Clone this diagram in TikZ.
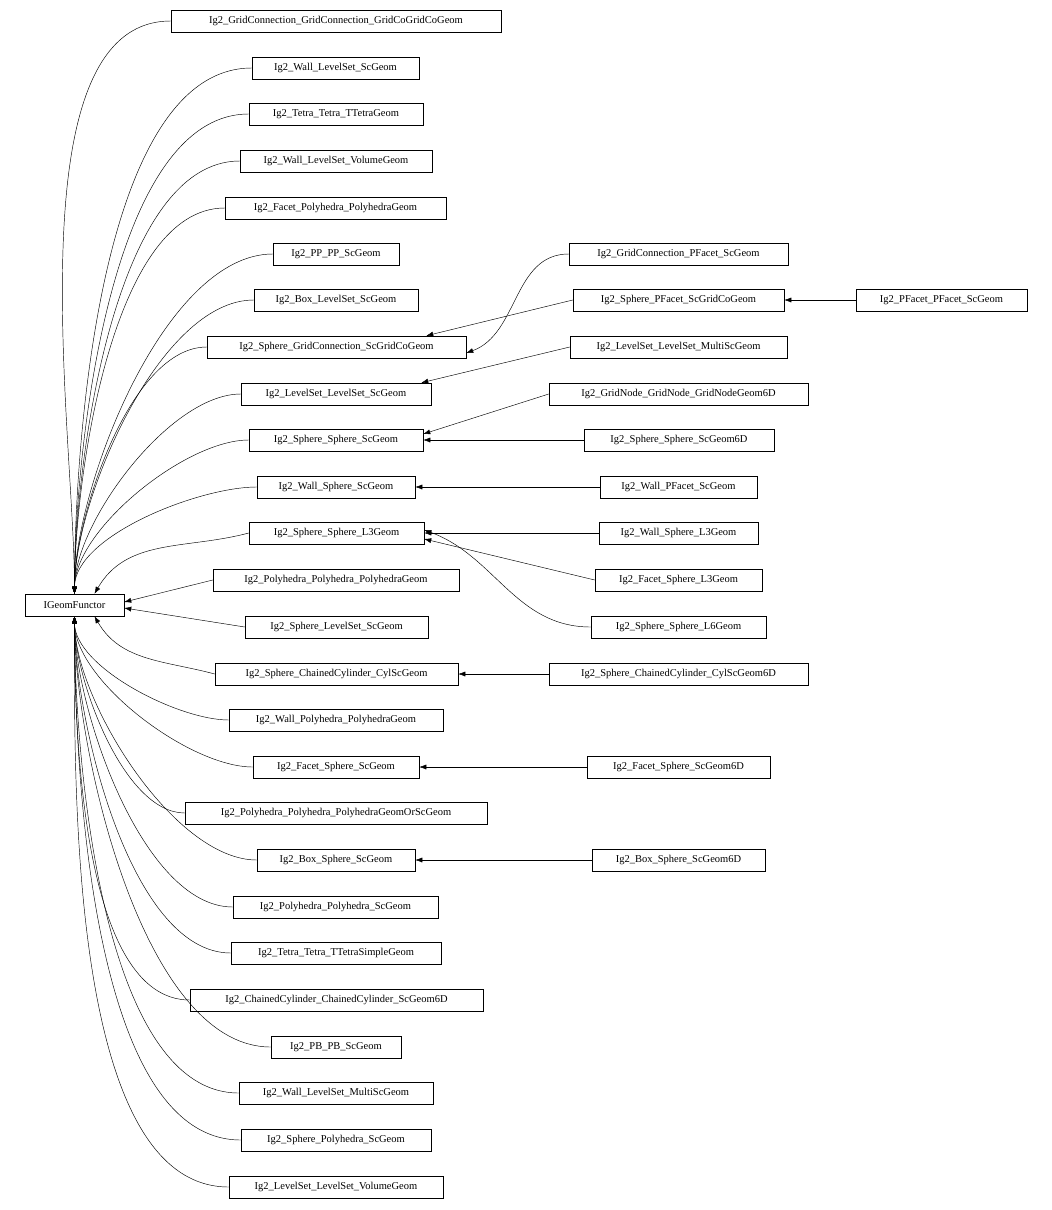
\documentclass[tikz,border=0pt]{standalone}
\usepackage{fontspec}
\setmainfont{Liberation Serif}
\usetikzlibrary{arrows.meta}

\tikzset{
  cls/.style={draw, line width=0.5pt, inner sep=0pt, minimum height=22, font=\fontsize{10.5}{12}\selectfont},
  arr/.style={-{Latex[length=7,width=5]}, line width=0.45pt},
}

\begin{document}
\begin{tikzpicture}[x=1pt,y=-1pt]
\useasboundingbox (0,0) rectangle (1052,1210);

% base class
\node[cls, minimum width=99] (IG) at (74.5,605) {IGeomFunctor};

% first column
\node[cls, minimum width=330] (gcgc) at (336,21) {Ig2\_GridConnection\_GridConnection\_GridCoGridCoGeom};
\node[cls, minimum width=167] (wls) at (335.5,68) {Ig2\_Wall\_LevelSet\_ScGeom};
\node[cls, minimum width=174] (tt) at (336,114) {Ig2\_Tetra\_Tetra\_TTetraGeom};
\node[cls, minimum width=192] (wlsv) at (336,161) {Ig2\_Wall\_LevelSet\_VolumeGeom};
\node[cls, minimum width=221] (fpp) at (335.5,208) {Ig2\_Facet\_Polyhedra\_PolyhedraGeom};
\node[cls, minimum width=126] (pp) at (336,254) {Ig2\_PP\_PP\_ScGeom};
\node[cls, minimum width=164] (bls) at (336,300) {Ig2\_Box\_LevelSet\_ScGeom};
\node[cls, minimum width=259] (sgc) at (336.5,347) {Ig2\_Sphere\_GridConnection\_ScGridCoGeom};
\node[cls, minimum width=190] (lsls) at (336,394) {Ig2\_LevelSet\_LevelSet\_ScGeom};
\node[cls, minimum width=174] (ss) at (336,440) {Ig2\_Sphere\_Sphere\_ScGeom};
\node[cls, minimum width=158] (ws) at (336,487) {Ig2\_Wall\_Sphere\_ScGeom};
\node[cls, minimum width=175] (ssl3) at (336.5,533) {Ig2\_Sphere\_Sphere\_L3Geom};
\node[cls, minimum width=246] (ppp) at (336,580) {Ig2\_Polyhedra\_Polyhedra\_PolyhedraGeom};
\node[cls, minimum width=183] (sls) at (336.5,627) {Ig2\_Sphere\_LevelSet\_ScGeom};
\node[cls, minimum width=243] (scc) at (336.5,674) {Ig2\_Sphere\_ChainedCylinder\_CylScGeom};
\node[cls, minimum width=214] (wpp) at (336,720) {Ig2\_Wall\_Polyhedra\_PolyhedraGeom};
\node[cls, minimum width=166] (fs) at (336,767) {Ig2\_Facet\_Sphere\_ScGeom};
\node[cls, minimum width=302] (ppos) at (336,813) {Ig2\_Polyhedra\_Polyhedra\_PolyhedraGeomOrScGeom};
\node[cls, minimum width=158] (bs) at (336,860) {Ig2\_Box\_Sphere\_ScGeom};
\node[cls, minimum width=205] (pps) at (335.5,907) {Ig2\_Polyhedra\_Polyhedra\_ScGeom};
\node[cls, minimum width=210] (tts) at (336,953) {Ig2\_Tetra\_Tetra\_TTetraSimpleGeom};
\node[cls, minimum width=293] (cccc) at (336.5,1000) {Ig2\_ChainedCylinder\_ChainedCylinder\_ScGeom6D};
\node[cls, minimum width=130] (pb) at (336,1047) {Ig2\_PB\_PB\_ScGeom};
\node[cls, minimum width=194] (wlsm) at (336,1093) {Ig2\_Wall\_LevelSet\_MultiScGeom};
\node[cls, minimum width=190] (sp) at (336,1140) {Ig2\_Sphere\_Polyhedra\_ScGeom};
\node[cls, minimum width=214] (lslsv) at (336,1187) {Ig2\_LevelSet\_LevelSet\_VolumeGeom};

% second column
\node[cls, minimum width=219] (gcpf) at (678.5,254) {Ig2\_GridConnection\_PFacet\_ScGeom};
\node[cls, minimum width=211] (spf) at (678.5,300) {Ig2\_Sphere\_PFacet\_ScGridCoGeom};
\node[cls, minimum width=171] (pfpf) at (941.5,300) {Ig2\_PFacet\_PFacet\_ScGeom};
\node[cls, minimum width=217] (lslsm) at (678.5,347) {Ig2\_LevelSet\_LevelSet\_MultiScGeom};
\node[cls, minimum width=259] (gngn) at (678.5,394) {Ig2\_GridNode\_GridNode\_GridNodeGeom6D};
\node[cls, minimum width=190] (ss6) at (679,440) {Ig2\_Sphere\_Sphere\_ScGeom6D};
\node[cls, minimum width=157] (wpf) at (678.5,487) {Ig2\_Wall\_PFacet\_ScGeom};
\node[cls, minimum width=159] (wsl3) at (678.5,533) {Ig2\_Wall\_Sphere\_L3Geom};
\node[cls, minimum width=167] (fsl3) at (678.5,580) {Ig2\_Facet\_Sphere\_L3Geom};
\node[cls, minimum width=175] (ssl6) at (678.5,627) {Ig2\_Sphere\_Sphere\_L6Geom};
\node[cls, minimum width=259] (scc6) at (678.5,674) {Ig2\_Sphere\_ChainedCylinder\_CylScGeom6D};
\node[cls, minimum width=183] (fs6) at (678.5,767) {Ig2\_Facet\_Sphere\_ScGeom6D};
\node[cls, minimum width=173] (bs6) at (678.5,860) {Ig2\_Box\_Sphere\_ScGeom6D};

% edges to the base class
\foreach \n in {gcgc,wls,tt,wlsv,fpp,pp,bls,sgc,lsls,ss,ws}
  \draw[arr] (\n.west) to[out=180,in=90,looseness=0.7] (IG.north);
\draw[arr] (ssl3.west) to[out=195,in=60] ([xshift=20]IG.north);
\draw[arr] (ppp.west) -- ([yshift=3]IG.east);
\draw[arr] (sls.west) -- ([yshift=-3]IG.east);
\draw[arr] (scc.west) to[out=165,in=-60] ([xshift=20]IG.south);
\foreach \n in {wpp,fs,ppos,bs,pps,tts,cccc,pb,wlsm,sp,lslsv}
  \draw[arr] (\n.west) to[out=180,in=-90,looseness=0.7] (IG.south);

% edges between the columns
\draw[arr] (gcpf.west) to[out=180,in=20] ([yshift=-6]sgc.east);
\draw[arr] (spf.west) -- ([xshift=-40]sgc.north east);
\draw[arr] (pfpf.west) -- (spf.east);
\draw[arr] (lslsm.west) -- ([xshift=-10]lsls.north east);
\draw[arr] (gngn.west) -- ([yshift=6]ss.east);
\draw[arr] (ss6.west) -- (ss.east);
\draw[arr] (wpf.west) -- (ws.east);
\draw[arr] (wsl3.west) -- (ssl3.east);
\draw[arr] (fsl3.west) -- ([yshift=-6]ssl3.east);
\draw[arr] (ssl6.west) to[out=180,in=-20] ([yshift=3]ssl3.east);
\draw[arr] (scc6.west) -- (scc.east);
\draw[arr] (fs6.west) -- (fs.east);
\draw[arr] (bs6.west) -- (bs.east);
\end{tikzpicture}
\end{document}
